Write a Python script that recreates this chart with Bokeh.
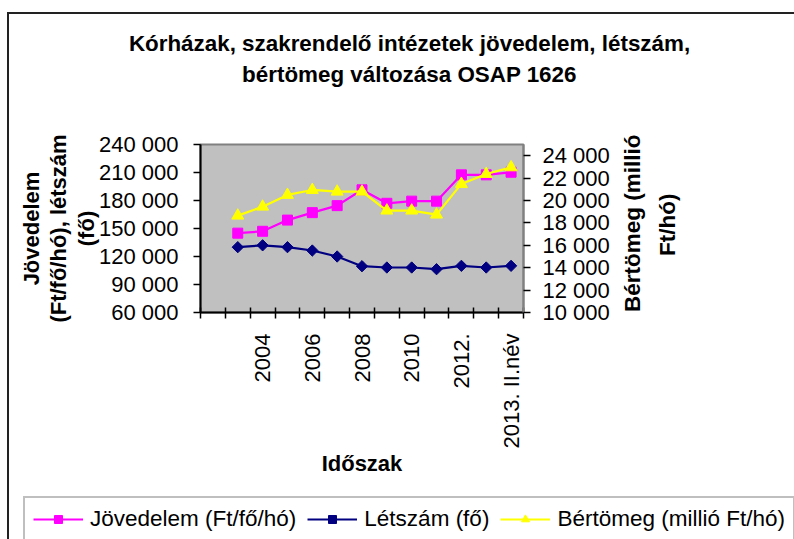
import math
from bokeh.plotting import figure
from bokeh.models import (Range1d, LinearAxis, FixedTicker, CustomJSTickFormatter,
                          Legend, LegendItem)
from bokeh.embed import file_html
from bokeh.resources import INLINE

# ---- data ----
categories = ["", "2003", "2004", "2005", "2006", "2007", "2008", "2009",
              "2010", "2011", "2012.", "2013. I.név", "2013. II.név"]
jovedelem = [145000, 147000, 159000, 167000, 174500, 191500, 177000,
             179300, 179300, 207500, 207500, 210300]
letszam = [130000, 132000, 130000, 126400, 120000, 109600, 108200,
           108200, 106400, 110000, 108200, 110000]
bertomeg = [18650, 19450, 20500, 20940, 20790, 20790, 19100,
            19100, 18740, 21480, 22370, 22960]
left_ticks = [60000, 90000, 120000, 150000, 180000, 210000, 240000]
right_ticks = [10000, 12000, 14000, 16000, 18000, 20000, 22000, 24000]

title_lines = ["Kórházak, szakrendelő intézetek jövedelem, létszám,",
               "bértömeg változása OSAP 1626"]
left_title = "Jövedelem\n(Ft/fő/hó), létszám\n(fő)"
right_title_lines = ["Bértömeg (millió", "Ft/hó)"]
x_title = "Időszak"
series_names = ["Jövedelem (Ft/fő/hó)", "Létszám (fő)", "Bértömeg (millió Ft/hó)"]

FONT = "Liberation Sans"
n = len(categories)
x = [i + 0.5 for i in range(1, n)]

# page geometry
PW, PH = 794, 539
OX, OY = 9, 14                  # canvas origin on the page (inside the chart border)
PL, PR, PT, PB = 200, 523, 144, 312   # plot-area edges in page pixels
W, H = PW - OX, PH - OY
FL, FR, FT, FB = PL - OX, PR - OX, PT - OY, PB - OY

p = figure(frame_width=FR - FL, frame_height=FB - FT,
           output_backend="svg", toolbar_location=None,
           x_range=Range1d(0, n), y_range=Range1d(left_ticks[0], left_ticks[-1]),
           min_border_left=FL, min_border_right=W - FR, min_border_top=FT,
           min_border_bottom=H - FB,
           background_fill_color="#C0C0C0", border_fill_color="white",
           outline_line_color="#808080", outline_line_width=2)
p.margin = (OY - 2, 0, 0, OX - 2)
p.styles = {"border-left": "2px solid #222222", "border-top": "2px solid #222222"}
p.xgrid.visible = False
p.ygrid.visible = False
p.extra_y_ranges = {"r": Range1d(10000, 25000), "py": Range1d(PB, PT)}
p.extra_x_ranges = {"px": Range1d(PL, PR)}

fmt_js = "return tick.toFixed(0).replace(/\\B(?=(\\d{3})+(?!\\d))/g, ' ');"

def style_labels(ax, size="22px"):
    ax.major_label_text_font = FONT
    ax.major_label_text_font_size = size
    ax.major_label_text_color = "black"

def text_axis(ax):
    ax.axis_line_color = None
    ax.major_tick_line_color = None
    ax.minor_tick_line_color = None
    ax.major_tick_out = 0
    ax.major_tick_in = 0
    ax.minor_tick_out = 0
    ax.minor_tick_in = 0

# x axis
xa = p.xaxis[0]
xa.ticker = FixedTicker(ticks=[i + 0.5 for i in range(0, n, 2)],
                        minor_ticks=list(range(n + 1)))
xa.formatter = CustomJSTickFormatter(args=dict(labels=categories),
                                     code="return labels[Math.floor(tick)];")
xa.major_tick_in = 0
xa.major_tick_out = 0
xa.minor_tick_in = 5
xa.minor_tick_out = 6
xa.minor_tick_line_color = "black"
xa.minor_tick_line_width = 1.5
xa.axis_line_color = "black"
xa.axis_line_width = 2
xa.major_label_orientation = math.pi / 2
xa.major_label_standoff = 15
style_labels(xa)
xa.axis_label = x_title
xa.axis_label_standoff = 0
xa.axis_label_text_font = FONT
xa.axis_label_text_font_size = "22px"
xa.axis_label_text_font_style = "bold"
xa.axis_label_text_color = "black"

# left axis
ya = p.yaxis[0]
ya.ticker = FixedTicker(ticks=left_ticks)
ya.formatter = CustomJSTickFormatter(code=fmt_js)
ya.major_tick_in = 0
ya.major_tick_out = 7
ya.minor_tick_in = 0
ya.minor_tick_out = 0
ya.major_tick_line_color = "black"
ya.major_tick_line_width = 1.5
ya.axis_line_color = "black"
ya.axis_line_width = 2
ya.major_label_standoff = 15
style_labels(ya)
ya.axis_label = left_title
ya.axis_label_standoff = -3
ya.axis_label_text_font = FONT
ya.axis_label_text_font_size = "22px"
ya.axis_label_text_font_style = "bold"
ya.axis_label_text_color = "black"
ya.axis_label_text_line_height = 1.1

# right axis
ra = LinearAxis(y_range_name="r", ticker=FixedTicker(ticks=right_ticks),
                formatter=CustomJSTickFormatter(code=fmt_js))
ra.major_tick_in = 0
ra.major_tick_out = 7
ra.minor_tick_in = 0
ra.minor_tick_out = 0
ra.major_tick_line_color = "black"
ra.major_tick_line_width = 1.5
ra.axis_line_color = "#808080"
ra.axis_line_width = 2
ra.major_label_standoff = 12
style_labels(ra)
p.add_layout(ra, "right")

# right axis title: two rotated text rows (anchored at their lower end)
for txt, anchor, standoff in [(right_title_lines[0], 311.5, 20),
                              (right_title_lines[1], 255.5, 7)]:
    rt = LinearAxis(y_range_name="py", ticker=FixedTicker(ticks=[anchor]),
                    formatter=CustomJSTickFormatter(args=dict(t=txt), code="return t;"))
    text_axis(rt)
    rt.major_label_orientation = math.pi / 2
    rt.major_label_standoff = standoff
    style_labels(rt, "22.5px")
    rt.major_label_text_font_style = "bold"
    p.add_layout(rt, "right")

# chart title: two text rows above the plot area
title_x = 409
for txt, standoff in [(title_lines[1], 58), (title_lines[0], 3)]:
    ta = LinearAxis(x_range_name="px", ticker=FixedTicker(ticks=[title_x]),
                    formatter=CustomJSTickFormatter(args=dict(t=txt), code="return t;"))
    text_axis(ta)
    ta.major_label_standoff = standoff
    style_labels(ta, "22.4px")
    ta.major_label_text_font_style = "bold"
    p.add_layout(ta, "above")

# series
l1 = p.line(x, jovedelem, line_color="#FF00FF", line_width=2.2)
s1 = p.scatter(x, jovedelem, marker="square", size=10, fill_color="#FF00FF",
               line_color="#FF00FF")
l2 = p.line(x, letszam, line_color="#000080", line_width=2.2)
s2 = p.scatter(x, letszam, marker="square", angle=math.pi / 4, size=8,
               fill_color="#000080", line_color="#000080")
l3 = p.line(x, bertomeg, line_color="#FFFF00", line_width=2.2, y_range_name="r")
s3 = p.scatter(x, bertomeg, marker="triangle", size=12, fill_color="#FFFF00",
               line_color="#FFFF00", y_range_name="r")

legend_kw = dict(location=(23 - PL, 695), orientation="horizontal",
                 glyph_width=50, glyph_height=20, label_standoff=7, spacing=11,
                 padding=8, margin=0,
                 label_text_font=FONT, label_text_font_size="22.5px",
                 label_text_color="black",
                 border_line_color="#808080", border_line_width=2,
                 background_fill_color="white", background_fill_alpha=1)
if "ncols" in Legend.properties():
    legend_kw["ncols"] = 3
legend = Legend(items=[LegendItem(label=series_names[0], renderers=[l1, s1]),
                       LegendItem(label=series_names[1], renderers=[l2, s2]),
                       LegendItem(label=series_names[2], renderers=[l3, s3])],
                **legend_kw)
p.add_layout(legend, "below")

open("out.html", "w").write(file_html(p, INLINE))
